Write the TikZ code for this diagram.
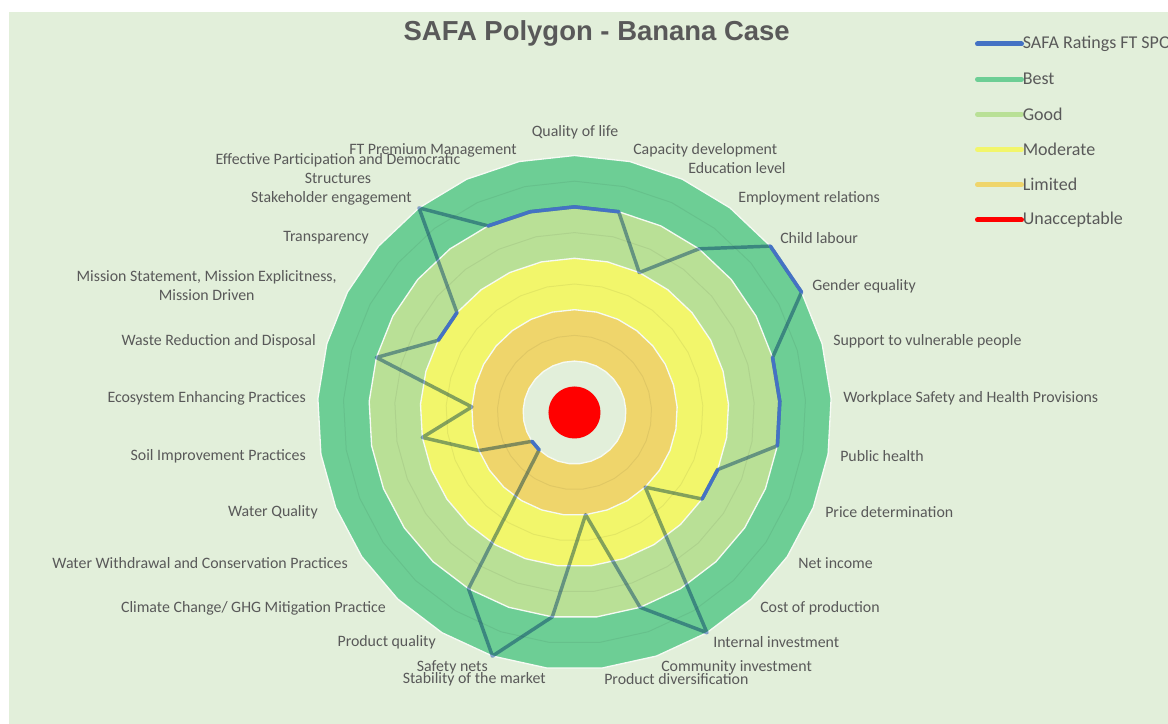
\documentclass[tikz,border=0pt]{standalone}
\usepackage{fontspec}
\setmainfont{Carlito}
\newfontfamily\titlefont{Liberation Sans}

\definecolor{chartbg}{HTML}{E2EFDA}
\definecolor{best}{HTML}{6DCE95}
\definecolor{good}{HTML}{B9E096}
\definecolor{moderate}{HTML}{F2F66B}
\definecolor{limited}{HTML}{EFD56B}
\definecolor{unaccept}{HTML}{FF0000}
\definecolor{safablue}{HTML}{4472C4}
\definecolor{labelgray}{HTML}{595959}

\newcommand{\safagon}[1]{(90:#1) \foreach \k in {1,...,28}{ -- ({90-\k*360/29}:#1)} -- cycle}

\begin{document}
\begin{tikzpicture}[x=0.75pt,y=0.75pt,
  bandedge/.style={draw=white!70!chartbg, line width=1pt},
  gridring/.style={draw=black, draw opacity=0.06, line width=0.75pt},
  axislabel/.style={text=labelgray, inner sep=0pt, font=\fontsize{11.9}{14.2}\selectfont},
  legendtext/.style={text=labelgray, inner sep=0pt, anchor=west, font=\fontsize{13.5}{16}\selectfont},
  legendline/.style={line width=3.75pt, line cap=round},
  safaline/.style={draw=safablue, line width=2.6pt, line join=round, blend mode=multiply, draw opacity=0.62},
  safaedge/.style={draw=safablue, line width=2.6pt, line cap=round}]
\useasboundingbox (-574.5,-311.5) rectangle (593.5,412.5);
\fill[chartbg] (-565.5,-311.5) rectangle (593.5,400.5);
\node[text=labelgray, anchor=base, font=\titlefont\bfseries\fontsize{20.6}{24}\selectfont] (title) at (22.2,371.5) {SAFA Polygon - Banana Case};

\fill[best] \safagon{257};
\fill[good] \safagon{205.6};
\fill[moderate] \safagon{154.2};
\fill[limited] \safagon{102.8};
\fill[chartbg] \safagon{51.4};
\foreach \r in {25.7,77.1,128.5,179.9,231.3}
  \draw[gridring] \safagon{\r};
\foreach \r in {51.4,102.8,154.2,205.6,257}
  \draw[bandedge] \safagon{\r};
\fill[unaccept] (0,0) circle (26);

\foreach \v [count=\i from 0] in {4,4,3,4,5,5,4,4,4,3,3,2,5,4,2,4,5,4,1,1,2,3,2,4,3,3,5,4,4}
  \coordinate (s\i) at ({90-\i*360/29}:\v*51.4);
\draw[safaline] (s0) \foreach \i in {1,...,28}{ -- (s\i)} -- cycle;
\foreach \a/\b in {27/28,28/0,0/1,4/5,6/7,7/8,9/10,18/19,24/25}
  \draw[safaedge] (s\a) -- (s\b);

\node[axislabel] (qual) at (0.5,280.5) {Quality of life};
\node[axislabel, anchor=west] (capdev) at (58.5,262.5) {Capacity development};
\node[axislabel, anchor=west] (edu) at (113.5,244.5) {Education level};
\node[axislabel, anchor=west] (employ) at (163.5,214.5) {Employment relations};
\node[axislabel, anchor=west] (child) at (205.5,174.5) {Child labour};
\node[axislabel, anchor=west] (gender) at (237.5,126.5) {Gender equality};
\node[axislabel, anchor=west] (vulner) at (258.5,71.5) {Support to vulnerable people};
\node[axislabel, anchor=west] (workplace) at (268.5,14.5) {Workplace Safety and Health Provisions};
\node[axislabel, anchor=west] (health) at (265.5,-43.5) {Public health};
\node[axislabel, anchor=west] (price) at (250.5,-99.5) {Price determination};
\node[axislabel, anchor=west] (income) at (223.5,-150.5) {Net income};
\node[axislabel, anchor=west] (cost) at (185.5,-195.5) {Cost of production};
\node[axislabel, anchor=west] (internal) at (138.5,-229.5) {Internal investment};
\node[axislabel, anchor=west] (community) at (86.5,-254.5) {Community investment};
\node[axislabel, anchor=west] (diversif) at (29.5,-266.5) {Product diversification};
\node[axislabel, anchor=east] (stability) at (-28.5,-266.5) {Stability of the market};
\node[axislabel, anchor=east] (safety) at (-86.5,-254.5) {Safety nets};
\node[axislabel, anchor=east] (pquality) at (-138.5,-229.5) {Product quality};
\node[axislabel, anchor=east] (climate) at (-188.5,-195.5) {Climate Change/ GHG Mitigation Practice};
\node[axislabel, anchor=east] (withdraw) at (-226.5,-150.5) {Water Withdrawal and Conservation Practices};
\node[axislabel, anchor=east] (wquality) at (-256.5,-99.5) {Water Quality};
\node[axislabel, anchor=east] (soil) at (-268.5,-43.5) {Soil Improvement Practices};
\node[axislabel, anchor=east] (ecosys) at (-268.5,14.5) {Ecosystem Enhancing Practices};
\node[axislabel, anchor=east] (waste) at (-258.5,71.5) {Waste Reduction and Disposal};
\node[axislabel, align=center] (mission) at (-367.8,126.5) {Mission Statement, Mission Explicitness,\\Mission Driven};
\node[axislabel, anchor=east] (transp) at (-205.5,174.5) {Transparency};
\node[axislabel, anchor=east] (stake) at (-162.5,214.5) {Stakeholder engagement};
\node[axislabel, align=center] (particip) at (-236.5,243.8) {Effective Participation and Democratic\\Structures};
\node[axislabel, anchor=east] (premium) at (-57.5,262.5) {FT Premium Management};

\foreach \c/\t [count=\i from 0] in {safablue/SAFA Ratings FT SPO, best/Best, good/Good, moderate/Moderate, limited/Limited, unaccept/Unacceptable} {
  \draw[legendline, \c] (403,368.5-35.2*\i) -- (447,368.5-35.2*\i);
  \node[legendtext] (key\i) at (448,368.5-35.2*\i) {\t};
}
\end{tikzpicture}
\end{document}
